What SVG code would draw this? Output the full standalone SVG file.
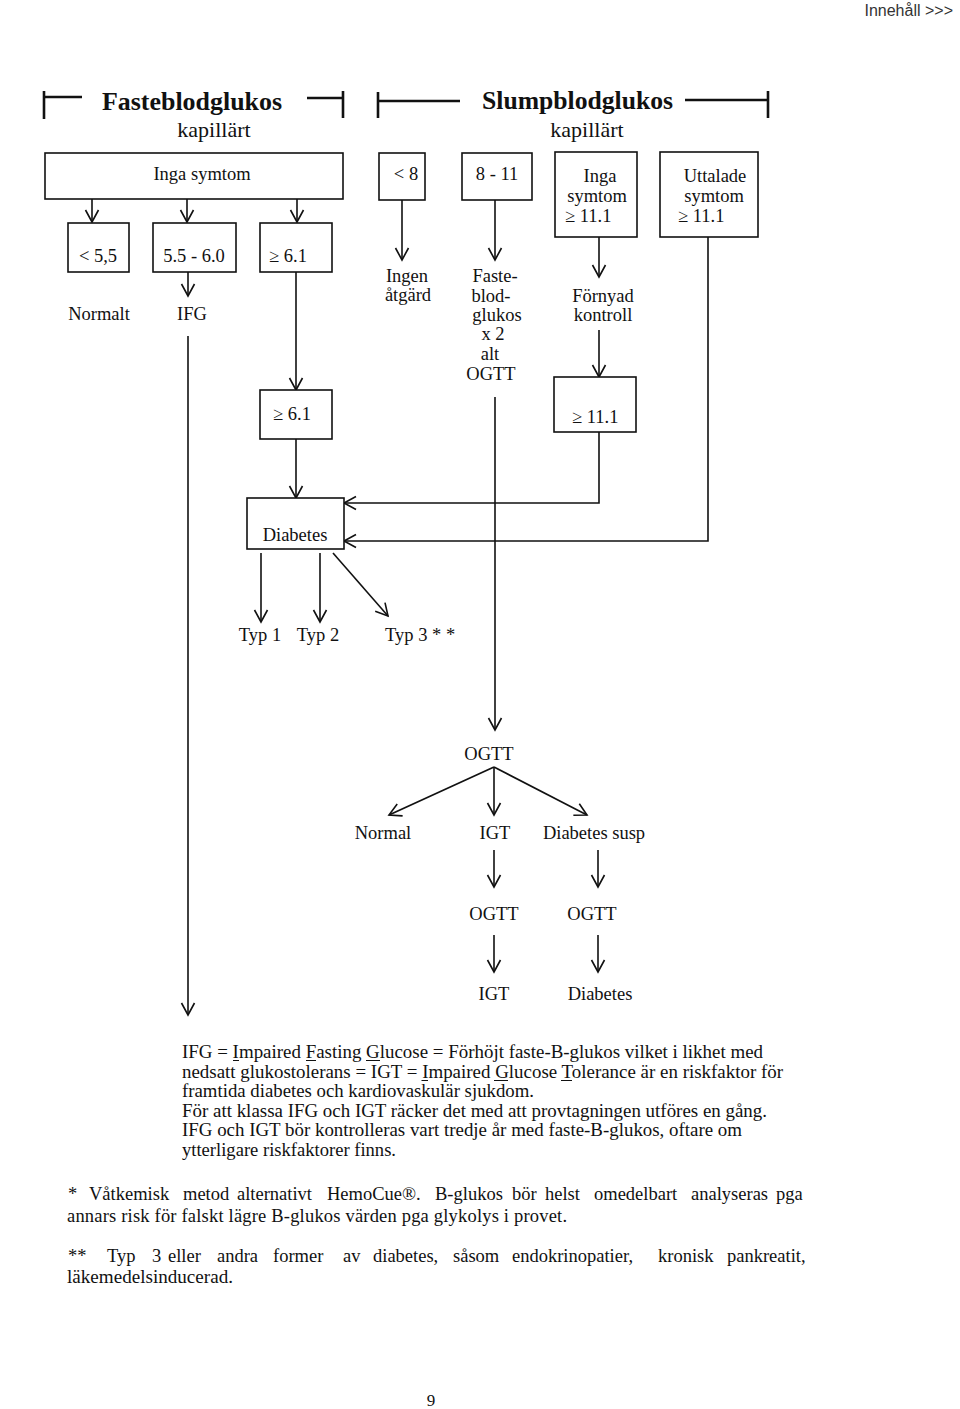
<svg xmlns="http://www.w3.org/2000/svg" width="960" height="1409" viewBox="0 0 960 1409">
<defs>
<style>
.t{font-family:"Liberation Serif","Times New Roman",serif;font-size:18.5px;fill:#111}
.m{text-anchor:middle}
.h{font-family:"Liberation Serif","Times New Roman",serif;font-size:25px;font-weight:bold;fill:#111}
.k{font-family:"Liberation Serif","Times New Roman",serif;font-size:22px;fill:#111}
.p{font-family:"Liberation Serif","Times New Roman",serif;font-size:18px;fill:#111}
.f{font-family:"Liberation Serif","Times New Roman",serif;font-size:18.5px;fill:#111}
.b{fill:#fff;stroke:#111;stroke-width:1.6}
.c{fill:none;stroke:#111;stroke-width:1.6}
.u{fill:none;stroke:#111;stroke-width:1.1}
.br{fill:none;stroke:#111;stroke-width:2.6}
.a{marker-end:url(#ah)}
</style>
<marker id="ah" markerUnits="userSpaceOnUse" markerWidth="18" markerHeight="18" viewBox="-15 -9 18 18" refX="0" refY="0" orient="auto">
<path d="M-12,-6.5 L0,0 L-12,6.5" fill="none" stroke="#111" stroke-width="1.6"/>
</marker>
</defs>
<rect width="960" height="1409" fill="#fff"/>

<text x="953" y="16" text-anchor="end" style="font-family:'Liberation Sans',Arial,sans-serif;font-size:16px;fill:#333">Innehåll &gt;&gt;&gt;</text>

<g id="header-faste">
<path class="br" d="M44,91 V119 M44,97 H82 M307,98 H343 M343,91 V118"/>
<text class="h" x="102" y="110" textLength="180" lengthAdjust="spacingAndGlyphs">Fasteblodglukos</text>
<text class="k" x="214" y="137" text-anchor="middle">kapillärt</text>
</g>
<g id="header-slump">
<path class="br" d="M378,92 V118 M378,101 H460 M685,100 H768 M768,91 V118"/>
<text class="h" x="482" y="109" textLength="191" lengthAdjust="spacingAndGlyphs">Slumpblodglukos</text>
<text class="k" x="587" y="137" text-anchor="middle">kapillärt</text>
</g>

<g id="connectors">
<path class="c a" d="M92,199 V222"/>
<path class="c a" d="M187,199 V222"/>
<path class="c a" d="M297,199 V222"/>
<path class="c a" d="M188,272 V296"/>
<path class="c a" d="M188,336 V1015"/>
<path class="c a" d="M296,272 V390"/>
<path class="c a" d="M296,439 V498"/>
<path class="c a" d="M402,200 V260"/>
<path class="c a" d="M495,200 V260"/>
<path class="c a" d="M495,397 V730"/>
<path class="c a" d="M599,237 V277"/>
<path class="c a" d="M599,330 V377"/>
<path class="c a" d="M599,432 V503 H344"/>
<path class="c a" d="M708,237 V541 H344"/>
<path class="c a" d="M261,553 V622"/>
<path class="c a" d="M320,553 V622"/>
<path class="c a" d="M333,553 L388,616"/>
<path class="c a" d="M494,767 L389,815"/>
<path class="c a" d="M494,767 V815"/>
<path class="c a" d="M494,767 L587,815"/>
<path class="c a" d="M494,850 V887"/>
<path class="c a" d="M494,935 V972"/>
<path class="c a" d="M598,850 V887"/>
<path class="c a" d="M598,935 V972"/>
</g>

<g id="inga-symtom-faste">
<rect class="b" x="45" y="153" width="298" height="46"/>
<text class="t m" x="202" y="180">Inga symtom</text>
</g>
<g id="lt55">
<rect class="b" x="68" y="223" width="61" height="49"/>
<text class="t m" x="98" y="262">&lt; 5,5</text>
</g>
<g id="r55-60">
<rect class="b" x="153" y="223" width="83" height="49"/>
<text class="t m" x="194" y="262">5.5 - 6.0</text>
</g>
<g id="ge61a">
<rect class="b" x="260" y="223" width="72" height="49"/>
<text class="t" x="269" y="262">≥ 6.1</text>
</g>
<g id="normalt"><text class="t m" x="99" y="320">Normalt</text></g>
<g id="ifg"><text class="t m" x="192" y="320">IFG</text></g>
<g id="ge61b">
<rect class="b" x="260" y="390" width="72" height="49"/>
<text class="t" x="273" y="420">≥ 6.1</text>
</g>

<g id="lt8">
<rect class="b" x="379" y="153" width="46" height="47"/>
<text class="t m" x="406" y="180">&lt; 8</text>
</g>
<g id="r8-11">
<rect class="b" x="462" y="153" width="70" height="47"/>
<text class="t m" x="497" y="180">8 - 11</text>
</g>
<g id="inga-symtom-slump">
<rect class="b" x="555" y="152" width="82" height="85"/>
<text class="t m" x="600" y="182">Inga</text>
<text class="t m" x="597" y="202">symtom</text>
<text class="t" x="565" y="222">≥ 11.1</text>
</g>
<g id="uttalade">
<rect class="b" x="660" y="152" width="98" height="85"/>
<text class="t m" x="715" y="182">Uttalade</text>
<text class="t m" x="714" y="202">symtom</text>
<text class="t" x="678" y="222">≥ 11.1</text>
</g>
<g id="ingen-atgard">
<text class="t m" x="407" y="282">Ingen</text>
<text class="t m" x="408" y="301">åtgärd</text>
</g>
<g id="fasteblodglukos-x2">
<text class="t m" x="495" y="282">Faste-</text>
<text class="t m" x="491" y="302">blod-</text>
<text class="t m" x="497" y="321">glukos</text>
<text class="t m" x="493" y="340">x 2</text>
<text class="t m" x="490" y="360">alt</text>
<text class="t m" x="491" y="380">OGTT</text>
</g>
<g id="fornyad">
<text class="t m" x="603" y="302">Förnyad</text>
<text class="t m" x="603" y="321">kontroll</text>
</g>
<g id="ge111">
<rect class="b" x="554" y="377" width="82" height="55"/>
<text class="t" x="572" y="423">≥ 11.1</text>
</g>

<g id="diabetes">
<rect class="b" x="247" y="498" width="97" height="51"/>
<text class="t m" x="295" y="541">Diabetes</text>
</g>
<g id="typ1"><text class="t m" x="260" y="641">Typ 1</text></g>
<g id="typ2"><text class="t m" x="318" y="641">Typ 2</text></g>
<g id="typ3"><text class="t" x="385" y="641">Typ 3 * *</text></g>

<g id="ogtt1"><text class="t m" x="489" y="760">OGTT</text></g>
<g id="normal"><text class="t m" x="383" y="839">Normal</text></g>
<g id="igt1"><text class="t m" x="495" y="839">IGT</text></g>
<g id="diab-susp"><text class="t m" x="594" y="839">Diabetes susp</text></g>
<g id="ogtt2"><text class="t m" x="494" y="920">OGTT</text></g>
<g id="ogtt3"><text class="t m" x="592" y="920">OGTT</text></g>
<g id="igt2"><text class="t m" x="494" y="1000">IGT</text></g>
<g id="diabetes2"><text class="t m" x="600" y="1000">Diabetes</text></g>

<g id="note">
<text class="p" x="182" y="1058" textLength="581" lengthAdjust="spacingAndGlyphs">IFG = Impaired Fasting Glucose = Förhöjt faste-B-glukos vilket i likhet med</text>
<text class="p" x="182" y="1078" textLength="601" lengthAdjust="spacingAndGlyphs">nedsatt glukostolerans = IGT = Impaired Glucose Tolerance är en riskfaktor för</text>
<text class="p" x="182" y="1097" textLength="352" lengthAdjust="spacingAndGlyphs">framtida diabetes och kardiovaskulär sjukdom.</text>
<text class="p" x="182" y="1117" textLength="585" lengthAdjust="spacingAndGlyphs">För att klassa IFG och IGT räcker det med att provtagningen utföres en gång.</text>
<text class="p" x="182" y="1136" textLength="560" lengthAdjust="spacingAndGlyphs">IFG och IGT bör kontrolleras vart tredje år med faste-B-glukos, oftare om</text>
<text class="p" x="182" y="1156" textLength="214" lengthAdjust="spacingAndGlyphs">ytterligare riskfaktorer finns.</text>
<path class="u" d="M233,1060.5 H239 M306,1060.5 H316 M366,1060.5 H380 M421.5,1080.5 H428 M494,1080.5 H508 M561,1080.5 H572"/>
</g>
<g id="footnotes">
<text class="f" y="1200"><tspan x="68">* </tspan><tspan x="89">Våtkemisk </tspan><tspan x="183">metod </tspan><tspan x="237">alternativt </tspan><tspan x="327">HemoCue®. </tspan><tspan x="435">B-glukos </tspan><tspan x="512">bör </tspan><tspan x="545">helst </tspan><tspan x="594">omedelbart </tspan><tspan x="691">analyseras </tspan><tspan x="776">pga</tspan></text>
<text class="f" x="67" y="1222" textLength="500" lengthAdjust="spacing">annars risk för falskt lägre B-glukos värden pga glykolys i provet.</text>
<text class="f" y="1262"><tspan x="68">** </tspan><tspan x="107">Typ </tspan><tspan x="152">3 </tspan><tspan x="168">eller </tspan><tspan x="217">andra </tspan><tspan x="273">former </tspan><tspan x="343">av </tspan><tspan x="373">diabetes, </tspan><tspan x="453">såsom </tspan><tspan x="512">endokrinopatier, </tspan><tspan x="658">kronisk </tspan><tspan x="727">pankreatit,</tspan></text>
<text class="f" x="67" y="1283" textLength="166" lengthAdjust="spacingAndGlyphs">läkemedelsinducerad.</text>
</g>
<text class="t" x="431" y="1406" text-anchor="middle" style="font-size:17px">9</text>
</svg>
